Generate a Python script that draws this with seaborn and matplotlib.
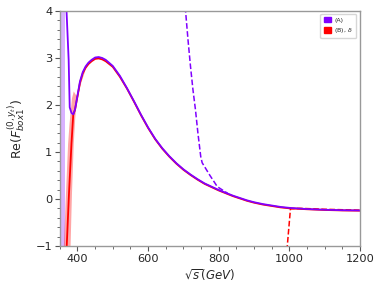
import numpy as np
import pandas as pd
import matplotlib
matplotlib.use("Agg")
import matplotlib.pyplot as plt
import seaborn as sns
from matplotlib.patches import Patch

# Curve (A), solid
xA = [368, 369, 375, 378, 383, 388, 393, 400, 407, 415, 423, 431, 440, 450, 460, 470, 480,
      500, 520, 540, 560, 580, 600, 620, 640, 660, 680, 700, 720, 740, 760, 780, 800, 820,
      840, 860, 880, 900, 925, 950, 975, 1000, 1050, 1100, 1150, 1200]
yA = [4.3, 4.0, 2.96, 1.95, 1.83, 1.8, 1.9, 2.2, 2.5, 2.7, 2.82, 2.9, 2.96, 3.01, 3.02, 3.0, 2.96,
      2.83, 2.62, 2.36, 2.08, 1.79, 1.52, 1.28, 1.08, 0.91, 0.76, 0.63, 0.52, 0.42, 0.33, 0.26, 0.19, 0.13,
      0.07, 0.02, -0.03, -0.07, -0.11, -0.14, -0.17, -0.19, -0.215, -0.23, -0.24, -0.245]
# Curve (B), solid
xB = [369, 376, 383, 388, 393, 400, 407, 415, 423, 431, 440, 450, 460, 470, 480,
      500, 520, 540, 560, 580, 600, 620, 640, 660, 680, 700, 720, 740, 760, 780, 800, 820,
      840, 860, 880, 900, 925, 950, 975, 1000, 1050, 1100, 1150, 1200]
yB = [-1.1, 0.12, 1.18, 1.79, 1.9, 2.18, 2.47, 2.67, 2.79, 2.87, 2.93, 2.98, 2.99, 2.97, 2.93,
      2.81, 2.6, 2.35, 2.07, 1.78, 1.51, 1.27, 1.07, 0.9, 0.75, 0.62, 0.51, 0.41, 0.32, 0.25, 0.18, 0.12,
      0.06, 0.01, -0.04, -0.08, -0.12, -0.15, -0.18, -0.2, -0.22, -0.235, -0.245, -0.25]
# Curve (A), dashed
xAd = [700, 706, 713, 720, 727, 734, 741, 749, 753, 775, 796, 825]
yAd = [4.3, 4.0, 3.38, 2.82, 2.32, 1.9, 1.4, 0.9, 0.77, 0.5, 0.26, 0.12]
# Curve (B), dashed
xBd = [992, 994, 1003, 1030, 1100, 1200]
yBd = [-1.1, -1.0, -0.21, -0.2, -0.22, -0.24]
# Uncertainty bands
xBand = [360, 366, 372, 376, 379, 383, 388, 392, 396, 400, 410, 420]
bandB_hi = [-1.0, 0.12, 1.18, 1.6, 1.85, 2.15, 2.3, 2.25, 2.2, 2.3, 2.55, 2.75]
bandB_lo = [-1.5, -1.5, -1.5, -1.5, -1.0, 0.12, 1.18, 1.7, 2.05, 2.2, 2.5, 2.72]
xBandA = [353, 364]
bandA_lo = [-1.5, -1.5]
bandA_hi = [4.5, 4.5]

legend_labels = ["(A)", "(B), $\\delta$"]
purple = "#8000ff"
red = "#ff0000"

sns.set_style("ticks")
plt.rcParams['font.family'] = ['DejaVu Sans']
fig = plt.figure(figsize=(3.81, 2.97), dpi=100)
ax = fig.add_axes([0.157, 0.172, 0.788, 0.791])

ax.fill_between(xBandA, bandA_lo, bandA_hi, color=purple, alpha=0.3, lw=0)
ax.fill_between(xBand, bandB_lo, bandB_hi, color=red, alpha=0.35, lw=0)

dB = pd.DataFrame({"x": xB, "y": yB})
dA = pd.DataFrame({"x": xA, "y": yA})
dAd = pd.DataFrame({"x": xAd, "y": yAd})
dBd = pd.DataFrame({"x": xBd, "y": yBd})
sns.lineplot(data=dB, x="x", y="y", ax=ax, color=red, lw=1.3, sort=False)
sns.lineplot(data=dBd, x="x", y="y", ax=ax, color=red, lw=1.1, ls="--", sort=False)
sns.lineplot(data=dA, x="x", y="y", ax=ax, color=purple, lw=1.3, sort=False)
sns.lineplot(data=dAd, x="x", y="y", ax=ax, color=purple, lw=1.1, ls="--", sort=False)

ax.set_xlim(350, 1200)
ax.set_ylim(-1, 4)
ax.set_xticks([400, 600, 800, 1000, 1200])
ax.set_yticks([-1, 0, 1, 2, 3, 4])
ax.set_xticks(np.arange(350, 1201, 50), minor=True)
ax.set_yticks(np.arange(-1, 4.01, 0.2), minor=True)
ax.tick_params(axis='both', which='major', labelsize=8.2, length=3.5, width=0.8, color='#555555', pad=2)
ax.tick_params(axis='both', which='minor', length=2, width=0.6, color='#555555')
for s in ax.spines.values():
    s.set_color('#999999')
    s.set_linewidth(1.0)

ax.set_xlabel("$\\sqrt{s}(GeV)$", fontsize=8.5, labelpad=3)
ax.set_ylabel("Re($F^{(0,y_t)}_{box1}$)", fontsize=9, labelpad=6)

handles = [Patch(facecolor=purple, edgecolor=purple), Patch(facecolor=red, edgecolor=red)]
ax.legend(handles, legend_labels, loc='upper right', fontsize=4.5, frameon=True,
          handlelength=1.2, handleheight=0.9, borderpad=0.5, labelspacing=0.5,
          handletextpad=0.5, bbox_to_anchor=(0.997, 1.0))

fig.savefig("out.png", dpi=100)
